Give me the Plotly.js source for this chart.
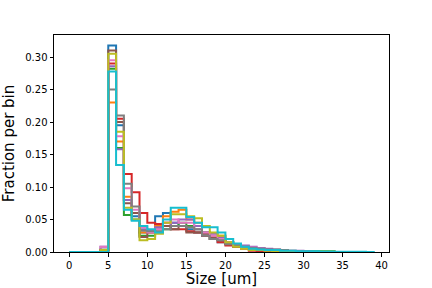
<!DOCTYPE html>
<html>
<head>
<meta charset="utf-8">
<script src="https://cdn.plot.ly/plotly-3.0.1.min.js"></script>
<style>html,body{margin:0;padding:0;background:#fff;}#chart{width:432px;height:288px;}</style>
</head>
<body>
<div id="chart"></div>
<script>
// bin edges 0..39 (width 1)
const binEdges = [0,1,2,3,4,5,6,7,8,9,10,11,12,13,14,15,16,17,18,19,20,21,22,23,24,25,26,27,28,29,30,31,32,33,34,35,36,37,38,39];
const seriesColors = ['#1f77b4','#ff7f0e','#2ca02c','#d62728','#9467bd','#8c564b','#e377c2','#7f7f7f','#bcbd22','#17becf'];
const s0 = [0,0,0,0,0.002,0.318,0.195,0.080,0.055,0.030,0.032,0.055,0.060,0.045,0.040,0.035,0.030,0.025,0.020,0.015,0.012,0.008,0.006,0.005,0.004,0.003,0.002,0.002,0.001,0.001,0.001,0.0005,0,0,0,0,0,0,0];
const s1 = [0,0,0,0,0.003,0.230,0.170,0.085,0.060,0.030,0.030,0.040,0.055,0.062,0.065,0.050,0.045,0.030,0.025,0.025,0.015,0.010,0.008,0.006,0.006,0.004,0.003,0.002,0.001,0.001,0,0,0,0,0,0,0,0,0];
const s2 = [0,0,0,0,0.002,0.282,0.160,0.057,0.050,0.025,0.025,0.030,0.035,0.040,0.045,0.040,0.035,0.030,0.020,0.018,0.012,0.010,0.006,0.004,0.003,0.002,0.002,0.002,0.001,0.001,0.001,0.001,0.001,0.001,0,0,0,0,0];
const s3 = [0,0,0,0,0.001,0.290,0.205,0.120,0.092,0.060,0.045,0.043,0.045,0.035,0.035,0.032,0.030,0.025,0.020,0.015,0.010,0.008,0.005,0.002,0.001,0.001,0,0,0,0,0,0,0,0,0,0,0,0,0];
const s4 = [0,0,0,0,0.008,0.286,0.158,0.080,0.060,0.035,0.033,0.038,0.040,0.045,0.050,0.050,0.040,0.030,0.028,0.022,0.015,0.012,0.010,0.008,0.006,0.005,0.004,0.003,0.002,0.002,0.001,0,0,0,0,0,0,0,0];
const s5 = [0,0,0,0,0.003,0.310,0.200,0.075,0.060,0.023,0.030,0.035,0.040,0.035,0.040,0.030,0.030,0.028,0.022,0.020,0.015,0.010,0.006,0.005,0.003,0.003,0.002,0.002,0.001,0,0,0,0,0,0,0,0,0,0];
const s6 = [0,0,0,0,0.008,0.295,0.178,0.098,0.065,0.038,0.030,0.035,0.045,0.050,0.045,0.045,0.035,0.030,0.025,0.020,0.015,0.010,0.008,0.007,0.005,0.003,0.002,0.001,0,0,0,0,0,0,0,0,0,0,0];
const s7 = [0,0,0,0,0.004,0.250,0.210,0.105,0.070,0.033,0.032,0.032,0.035,0.040,0.040,0.038,0.035,0.025,0.020,0.018,0.012,0.010,0.008,0.006,0.005,0.004,0.004,0.003,0.002,0.001,0.001,0,0,0,0,0,0,0,0];
const s8 = [0,0,0,0,0.003,0.305,0.185,0.068,0.050,0.018,0.020,0.028,0.045,0.058,0.058,0.055,0.052,0.040,0.030,0.025,0.015,0.008,0.005,0.003,0.003,0.002,0.001,0,0,0,0,0,0,0,0,0,0,0,0];
const s9 = [0,0,0,0,0,0.278,0.134,0.065,0.048,0.040,0.035,0.030,0.050,0.068,0.068,0.054,0.045,0.038,0.038,0.030,0.020,0.013,0.008,0.005,0.004,0.003,0.003,0.002,0.002,0.001,0.001,0.001,0.0005,0.0005,0.0003,0.0003,0.0002,0.0002,0.0001];
const allSeries = [s0,s1,s2,s3,s4,s5,s6,s7,s8,s9];

const traces = allSeries.map((vals, i) => {
  const n = vals.length;
  const x = [binEdges[0]].concat(binEdges.slice(0, n), [binEdges[n]], [binEdges[n]]);
  const y = [0].concat(vals, [vals[n-1]], [0]);
  return {
    type: 'scatter', mode: 'lines', x: x, y: y,
    line: {shape: 'hv', color: seriesColors[i], width: 2},
    hoverinfo: 'skip', showlegend: false
  };
});

const axisCommon = {
  showgrid: false, zeroline: false, showline: true, mirror: true,
  linecolor: '#000', linewidth: 1, ticks: 'outside', ticklen: 3.5, tickwidth: 1,
  tickcolor: '#000', tickfont: {family: 'DejaVu Sans', size: 10, color: '#000'}
};

const layout = {
  width: 432, height: 288,
  margin: {l: 54, r: 43, t: 35, b: 36},
  paper_bgcolor: '#fff', plot_bgcolor: '#fff',
  xaxis: Object.assign({}, axisCommon, {
    range: [-1.95, 40.95], tickvals: [0,5,10,15,20,25,30,35,40],
    title: {text: 'Size [um]', font: {family: 'DejaVu Sans', size: 15, color: '#000'}, standoff: 4}
  }),
  yaxis: Object.assign({}, axisCommon, {
    range: [0, 0.334], tickvals: [0,0.05,0.1,0.15,0.2,0.25,0.3], tickformat: '.2f',
    title: {text: 'Fraction per bin', font: {family: 'DejaVu Sans', size: 15, color: '#000'}, standoff: 6}
  })
};

Plotly.newPlot('chart', traces, layout, {staticPlot: true, displayModeBar: false});
</script>
</body>
</html>
